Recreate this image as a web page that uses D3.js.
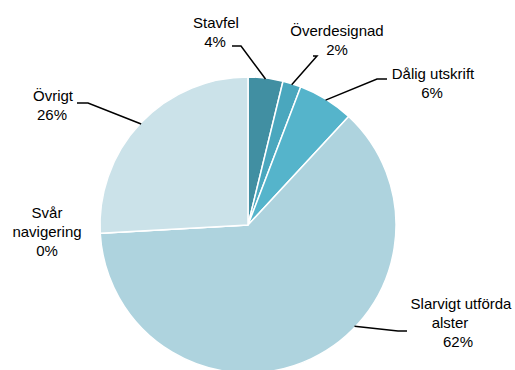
<!DOCTYPE html>
<html>
<head>
<meta charset="utf-8">
<script src="https://cdn.jsdelivr.net/npm/d3@7"></script>
<style>
  body { margin: 0; background: #fff; }
  text { font-family: "Liberation Sans", Arial, sans-serif; font-size: 15px; fill: #000; }
</style>
</head>
<body>
<div id="chart"></div>
<script>
// data (clockwise from 12 o'clock)
const categories = ['Stavfel', 'Överdesignad', 'Dålig utskrift', 'Slarvigt utförda alster', 'Svår navigering', 'Övrigt'];
const values = [3.8, 2.0, 6.1, 62.2, 0.0, 25.9];
const colors = ['#418fa2', '#4aa7be', '#55b4cb', '#aed3de', '#aed3de', '#cbe2e9'];

// label layout: each line [dx, baseline], text anchored middle
const labelLines = [
  [['Stavfel', 216, 28], ['4%', 215, 47]],
  [['Överdesignad', 337, 36], ['2%', 337, 55]],
  [['Dålig utskrift', 433, 79], ['6%', 432, 98]],
  [['Slarvigt utförda', 461, 309], ['alster', 450, 328], ['62%', 458, 347]],
  [['Svår', 47, 218], ['navigering', 47, 237], ['0%', 47, 256]],
  [['Övrigt', 53, 101], ['26%', 52, 120]]
];
// leader: knee point of the line, and optional angle override on the slice
const leaders = [
  { knee: [241, 46], from: [232, 46] },
  { knee: [317, 56], from: [313, 56] },
  { knee: [377, 79], from: [387, 79] },
  { knee: [398, 331], from: [407, 331], angle: 0.371 },
  null,
  { knee: [88, 103], from: [77, 103] }
];

const width = 515, height = 370;
const cx = 248, cy = 225, radius = 148;

const svg = d3.select('#chart').append('svg')
  .attr('width', width).attr('height', height);

const pie = d3.pie().sort(null).value(d => d);
const arcs = pie(values);
const arc = d3.arc().innerRadius(0).outerRadius(radius);

const g = svg.append('g').attr('transform', 'translate(' + cx + ',' + cy + ')');

g.selectAll('path')
  .data(arcs)
  .enter().append('path')
  .attr('d', arc)
  .attr('fill', (d, i) => colors[i])
  .attr('stroke', '#fff')
  .attr('stroke-width', 1.5)
  .attr('stroke-linejoin', 'round');

// leader lines
arcs.forEach((d, i) => {
  const l = leaders[i];
  if (!l) return;
  const a = l.angle != null ? l.angle * 2 * Math.PI : (d.startAngle + d.endAngle) / 2;
  const r = radius - 1;
  const px = cx + r * Math.sin(a), py = cy - r * Math.cos(a);
  svg.append('polyline')
    .attr('points', [l.from, l.knee, [px, py]].map(p => p.join(',')).join(' '))
    .attr('fill', 'none')
    .attr('stroke', '#000')
    .attr('stroke-width', 1.5);
});

// labels
labelLines.forEach(lines => {
  const t = svg.append('text').attr('text-anchor', 'middle');
  lines.forEach(([s, x, y]) => {
    t.append('tspan').attr('x', x).attr('y', y).text(s);
  });
});
</script>
</body>
</html>
